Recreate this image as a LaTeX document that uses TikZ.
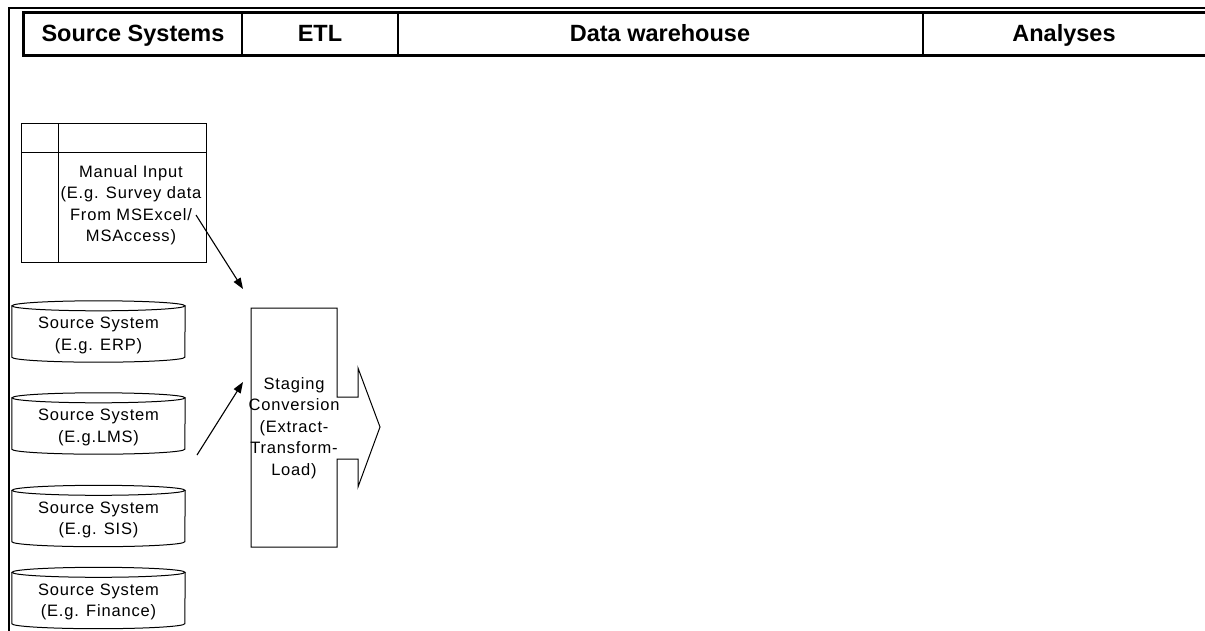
\documentclass[tikz,border=0pt]{standalone}
\usepackage{fontspec}
\setmainfont{Liberation Sans}
\usetikzlibrary{arrows.meta}

\begin{document}
\begin{tikzpicture}[x=1pt, y=-1pt,
    every node/.style={inner sep=0pt},
    head/.style={anchor=base, font=\fontsize{23.5}{26}\selectfont\bfseries},
    body/.style={font=\fontsize{16.5}{21.5}\selectfont\addfontfeature{LetterSpace=5}, align=center},
    srcsys/.style={minimum width=173pt, minimum height=61pt},
    flow/.style={-{Triangle[length=11pt,width=8pt]}, line width=1.1pt}]
  \useasboundingbox (0,0) rectangle (1205,630);
  % frame and header row
  \draw[line width=1.5pt] (1210,8) -- (9,8) -- (9,632);
  \draw[line width=3pt] (1210,12) -- (23,12) -- (23,55) -- (1210,55);
  \foreach \x in {242,398,923}
    \draw[line width=2pt] (\x,12) -- (\x,55);
  \node[head] (hsrc) at (133,41) {Source Systems};
  \node[head] (hetl) at (320,41) {ETL};
  \node[head] (hdwh) at (660,41) {Data warehouse};
  \node[head] (hana) at (1064,41) {Analyses};
  % manual input sheet
  \node[draw, line width=1pt, minimum width=185pt, minimum height=139pt] (manual) at (113.5,192.5) {};
  \draw[line width=1pt] (21,152) -- (206,152);
  \draw[line width=1pt] (58,123) -- (58,262);
  \node[body] (manualtxt) at (131,205) {Manual Input\\(E.g. Survey data\\From MSExcel/\\MSAccess)};
  % source system cylinders
  \foreach \nm/\cy/\txt in {erp/331.5/{(E.g. ERP)}, lms/423.5/{(E.g.LMS)}, sis/516/{(E.g. SIS)}, fin/598/{(E.g. Finance)}} {
    \node[srcsys] (\nm) at (98.5,\cy) {};
    \draw[line width=1pt] (\nm.north) ++(0,5) ellipse (86.5pt and 5pt);
    \draw[line width=1pt] ([yshift=-5pt]\nm.north west) -- ([yshift=5pt]\nm.south west)
      arc (180:360:86.5pt and 5pt) -- ([yshift=-5pt]\nm.north east);
    \node[body] (\nm txt) at ([yshift=-4pt]\nm.center) {Source System\\\txt};
  }
  % staging box with outgoing block arrow
  \draw[line width=1pt] (251,308) -- (337,308) -- (337,397) -- (358,397) -- (358,368) -- (380,427)
    -- (358,487) -- (358,459) -- (337,459) -- (337,547) -- (251,547) -- cycle;
  \node[body] (stage) at (294,428) {Staging\\Conversion\\(Extract-\\Transform-\\Load)};
  % feeds
  \coordinate (manualout) at (196,215);
  \coordinate (stagetop) at (243,289);
  \coordinate (lmsout) at (197,455);
  \coordinate (stagemid) at (243,382);
  \draw[flow] (manualout) -- (stagetop);
  \draw[flow] (lmsout) -- (stagemid);
\end{tikzpicture}
\end{document}
